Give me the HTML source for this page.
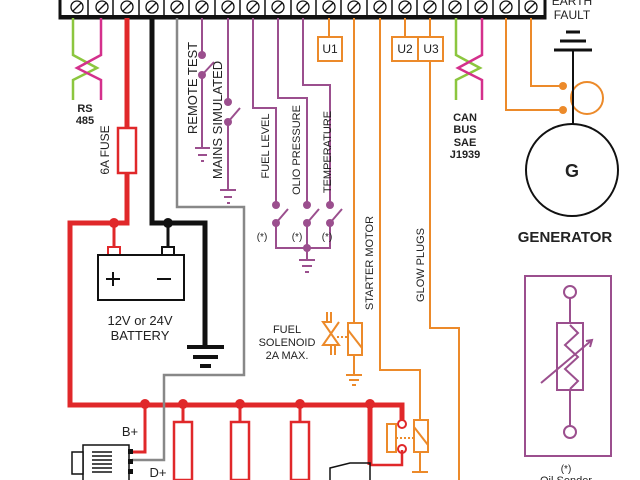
<!DOCTYPE html>
<html><head><style>body{margin:0;background:#fff}svg{display:block}text{font-family:"Liberation Sans",sans-serif}</style></head><body>
<svg width="640" height="480" viewBox="0 0 640 480" xmlns="http://www.w3.org/2000/svg">
<g fill="none" stroke-linejoin="miter">
<rect x="60" y="-2" width="485" height="20" fill="#fff" stroke="#111" stroke-width="3"/>
<line x1="60" y1="17" x2="545" y2="17" stroke="#111" stroke-width="4"/>
<g stroke="#111" stroke-width="1.3">
<circle cx="77" cy="7" r="6"/><circle cx="102" cy="7" r="6"/><circle cx="127" cy="7" r="6"/><circle cx="152" cy="7" r="6"/><circle cx="177" cy="7" r="6"/><circle cx="202" cy="7" r="6"/><circle cx="228" cy="7" r="6"/><circle cx="253" cy="7" r="6"/><circle cx="278" cy="7" r="6"/><circle cx="303" cy="7" r="6"/><circle cx="329" cy="7" r="6"/><circle cx="354" cy="7" r="6"/><circle cx="380" cy="7" r="6"/><circle cx="405" cy="7" r="6"/><circle cx="430" cy="7" r="6"/><circle cx="455" cy="7" r="6"/><circle cx="481" cy="7" r="6"/><circle cx="506" cy="7" r="6"/><circle cx="531" cy="7" r="6"/>
<path d="M73 11L81 3M98 11L106 3M123 11L131 3M148 11L156 3M173 11L181 3M198 11L206 3M224 11L232 3M249 11L257 3M274 11L282 3M299 11L307 3M325 11L333 3M350 11L358 3M376 11L384 3M401 11L409 3M426 11L434 3M451 11L459 3M477 11L485 3M502 11L510 3M527 11L535 3"/>
</g>
<g stroke="#111" stroke-width="1.5">
<path d="M88 0V18M113 0V18M139 0V18M164 0V18M189 0V18M215 0V18M240 0V18M265 0V18M291 0V18M316 0V18M341 0V18M367 0V18M392 0V18M417 0V18M443 0V18M468 0V18M493 0V18M519 0V18"/>
</g>
<path d="M73 18V55L97 68L73 80V100" stroke="#8cc63f" stroke-width="2.5"/>
<path d="M101 18V55L77 68L101 80V100" stroke="#d4308c" stroke-width="2.5"/>
<path d="M456 18V55L480 68L456 80V100" stroke="#8cc63f" stroke-width="2.5"/>
<path d="M482 18V55L458 68L482 80V100" stroke="#d4308c" stroke-width="2.5"/>
<path d="M127 18V223H70V405H402V420" stroke="#e0282a" stroke-width="5"/>
<path d="M370 405V465" stroke="#e0282a" stroke-width="5"/>
<path d="M114 223V248" stroke="#e0282a" stroke-width="3"/>
<rect x="118" y="128" width="18" height="45" fill="#fff" stroke="#e0282a" stroke-width="2.5"/>
<path d="M145 405V452H132" stroke="#e0282a" stroke-width="3"/>
<path d="M370 465H402V450" stroke="#e0282a" stroke-width="2.5"/>
<path d="M402 405V418" stroke="#e0282a" stroke-width="2.5"/>
<circle cx="402" cy="424" r="4" stroke="#e0282a" stroke-width="2"/>
<circle cx="402" cy="449" r="4" stroke="#e0282a" stroke-width="2"/>
<g fill="#e0282a"><circle cx="114" cy="223" r="5"/><circle cx="145" cy="404" r="5"/><circle cx="183" cy="404" r="5"/><circle cx="240" cy="404" r="5"/><circle cx="300" cy="404" r="5"/><circle cx="370" cy="404" r="5"/></g>
<g stroke="#e0282a" stroke-width="3"><path d="M183 405V480M240 405V480M300 405V480"/></g>
<g stroke="#e0282a" stroke-width="2.5" fill="#fff"><rect x="174" y="422" width="18" height="58"/><rect x="231" y="422" width="18" height="58"/><rect x="291" y="422" width="18" height="58"/></g>
<path d="M152 18V223H205V347" stroke="#111" stroke-width="5"/>
<path d="M168 223V248" stroke="#111" stroke-width="3"/>
<circle cx="168" cy="223" r="5" fill="#111"/>
<path d="M187 347H224M193 357H218M200 366H211" stroke="#111" stroke-width="4"/>
<rect x="108" y="247" width="12" height="8" fill="#fff" stroke="#e0282a" stroke-width="2"/>
<rect x="162" y="247" width="12" height="8" fill="#fff" stroke="#111" stroke-width="2"/>
<rect x="98" y="255" width="86" height="45" stroke="#111" stroke-width="2"/>
<path d="M113 272V286M106 279H120M157 279H171" stroke="#111" stroke-width="2"/>
<path d="M177 18V207H244V375H164V460H132" stroke="#888" stroke-width="2.5"/>
<g stroke="#9b4f8e" stroke-width="2">
<path d="M202 18V55M202 75V148M195 148H210M198 155H207M201 161H204"/>
<path d="M202 75L214 62"/>
<path d="M228 18V102M228 122V190M220 190H236M224 197H232M227 203H230"/>
<path d="M228 122L240 108"/>
<path d="M253 18V108H276V205M276 223V248H330V223"/>
<path d="M278 18V98H307V205M307 223V248"/>
<path d="M303 18V85H330V205"/>
<path d="M276 223L288 209M307 223L319 209M330 223L342 209"/>
<path d="M307 248V260M299 260H315M302 266H312M305 272H309"/>
</g>
<g fill="#9b4f8e"><circle cx="202" cy="55" r="4"/><circle cx="202" cy="75" r="4"/><circle cx="228" cy="102" r="4"/><circle cx="228" cy="122" r="4"/><circle cx="276" cy="205" r="4"/><circle cx="276" cy="223" r="4"/><circle cx="307" cy="205" r="4"/><circle cx="307" cy="223" r="4"/><circle cx="330" cy="205" r="4"/><circle cx="330" cy="223" r="4"/><circle cx="307" cy="248" r="4"/></g>
<g stroke="#ec8a2a" stroke-width="2">
<path d="M329 18V37M405 18V37M430 18V37"/>
<rect x="318" y="37" width="24" height="24"/>
<rect x="392" y="37" width="26" height="24"/><rect x="418" y="37" width="25" height="24"/>
<path d="M354 18V323M354 355V375M346 375H362M349 380H359M352 385H356"/>
<rect x="348" y="323" width="14" height="32"/><path d="M348 330L362 348"/>
<path d="M331 312V322L323 322L339 345H323L339 322M331 345V355M327 312V322M335 345V355"/>
<path d="M337 337H347" stroke-dasharray="2 2"/>
<path d="M380 18V370H420V420M420 452V472M412 472H428"/>
<rect x="414" y="420" width="14" height="32"/><path d="M414 427L428 445"/>
<rect x="387" y="424" width="9" height="28"/>
<path d="M396 438H413" stroke-dasharray="2 2"/>
<path d="M430 61V328H459V480"/>
<path d="M506 18V110H563M531 18V86H563"/>
<circle cx="587" cy="98" r="16"/>
</g>
<g fill="#ec8a2a"><circle cx="563" cy="86" r="4"/><circle cx="563" cy="110" r="4"/></g>
<path d="M573 50V124" stroke="#111" stroke-width="2"/>
<path d="M554 50H592M560 41H586M566 32H580" stroke="#111" stroke-width="3"/>
<circle cx="572" cy="170" r="46" stroke="#111" stroke-width="2"/>
<g stroke="#9b4f8e" stroke-width="2">
<rect x="525" y="276" width="86" height="180"/>
<circle cx="570" cy="292" r="6"/><circle cx="570" cy="432" r="6"/>
<path d="M570 298V323M570 390V426"/>
<rect x="557" y="323" width="26" height="67"/>
<path d="M570 325L578 333L565 345L578 357L565 369L578 381L570 389"/>
<path d="M541 383L592 340M586 341L592 340L590 347"/>
</g>
<g stroke="#111" stroke-width="1.5" fill="#fff">
<rect x="83" y="445" width="46" height="38"/>
<rect x="72" y="452" width="11" height="22"/>
<path d="M92 452H112M92 456H112M92 460H112M92 464H112M92 468H112M92 472H112"/>
</g>
<rect x="128" y="449" width="5" height="5" fill="#111"/><rect x="128" y="459" width="5" height="5" fill="#111"/><rect x="128" y="469" width="5" height="5" fill="#111"/>
<path d="M330 480V468L350 463H370V480" stroke="#111" stroke-width="1.5"/>
</g>
<g fill="#222" font-size="13">
<text x="330" y="53" text-anchor="middle" font-size="12">U1</text>
<text x="405" y="53" text-anchor="middle" font-size="12">U2</text>
<text x="431" y="53" text-anchor="middle" font-size="12">U3</text>
<text x="572" y="5" text-anchor="middle" font-size="12">EARTH</text>
<text x="572" y="19" text-anchor="middle" font-size="12">FAULT</text>
<text x="572" y="177" text-anchor="middle" font-size="18" font-weight="bold">G</text>
<text x="565" y="242" text-anchor="middle" font-size="15" font-weight="bold">GENERATOR</text>
<text x="85" y="112" text-anchor="middle" font-size="11" font-weight="bold">RS</text>
<text x="85" y="124" text-anchor="middle" font-size="11" font-weight="bold">485</text>
<text x="465" y="121" text-anchor="middle" font-size="11" font-weight="bold">CAN</text>
<text x="465" y="133" text-anchor="middle" font-size="11" font-weight="bold">BUS</text>
<text x="465" y="146" text-anchor="middle" font-size="11" font-weight="bold">SAE</text>
<text x="465" y="158" text-anchor="middle" font-size="11" font-weight="bold">J1939</text>
<text transform="translate(109,150) rotate(-90)" text-anchor="middle" font-size="12">6A FUSE</text>
<text transform="translate(197,88) rotate(-90)" text-anchor="middle">REMOTE TEST</text>
<text transform="translate(222,120) rotate(-90)" text-anchor="middle">MAINS SIMULATED</text>
<text transform="translate(269,146) rotate(-90)" text-anchor="middle" font-size="11">FUEL LEVEL</text>
<text transform="translate(300,150) rotate(-90)" text-anchor="middle" font-size="11">OLIO PRESSURE</text>
<text transform="translate(331,152) rotate(-90)" text-anchor="middle" font-size="11">TEMPERATURE</text>
<text transform="translate(373,263) rotate(-90)" text-anchor="middle" font-size="11">STARTER MOTOR</text>
<text transform="translate(424,265) rotate(-90)" text-anchor="middle" font-size="11">GLOW PLUGS</text>
<text x="262" y="240" text-anchor="middle" font-size="10">(*)</text>
<text x="297" y="240" text-anchor="middle" font-size="10">(*)</text>
<text x="327" y="240" text-anchor="middle" font-size="10">(*)</text>
<text x="140" y="325" text-anchor="middle">12V or 24V</text>
<text x="140" y="340" text-anchor="middle">BATTERY</text>
<text x="287" y="333" text-anchor="middle" font-size="11">FUEL</text>
<text x="287" y="346" text-anchor="middle" font-size="11">SOLENOID</text>
<text x="287" y="359" text-anchor="middle" font-size="11">2A MAX.</text>
<text x="130" y="436" text-anchor="middle">B+</text>
<text x="158" y="477" text-anchor="middle">D+</text>
<text x="566" y="472" text-anchor="middle" font-size="10">(*)</text>
<text x="566" y="484" text-anchor="middle" font-size="11">Oil Sender</text>
</g>
</svg>
</body></html>
